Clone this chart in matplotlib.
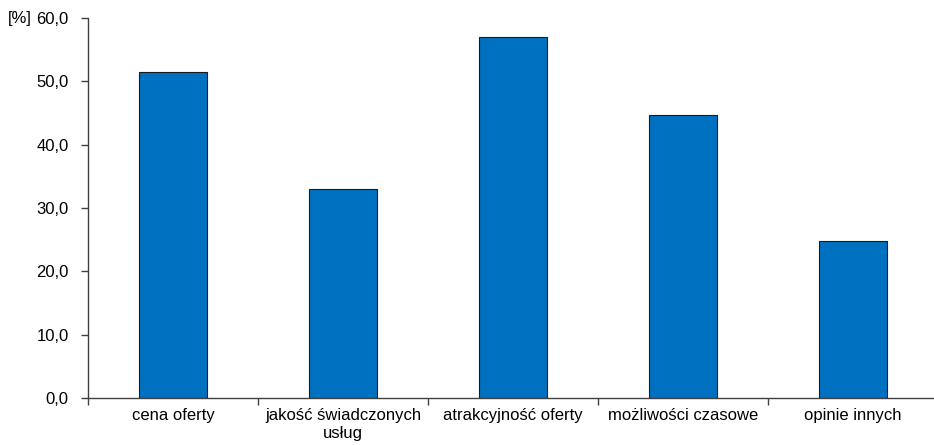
import matplotlib
matplotlib.use("Agg")
import matplotlib.pyplot as plt
from matplotlib.ticker import FuncFormatter

categories = ["cena oferty", "jakość świadczonych\nusług", "atrakcyjność oferty",
              "możliwości czasowe", "opinie innych"]
values = [51.4, 33.0, 57.0, 44.7, 24.8]
y_ticks = [0, 10, 20, 30, 40, 50, 60]

plt.rcParams["font.family"] = ["Liberation Sans", "DejaVu Sans"]
plt.rcParams["font.size"] = 12

fig = plt.figure(figsize=(9.34, 4.45), dpi=100)
ax = fig.add_axes([88 / 934, 47 / 445, 850 / 934, 380 / 445])

x = list(range(len(categories)))
ax.bar(x, values, width=0.4, color="#0070C0", edgecolor="#1a1a1a", linewidth=0.8, zorder=2)

ax.set_xlim(-0.5, len(categories) - 0.5)
ax.set_ylim(0, 60)
ax.set_yticks(y_ticks)
ax.yaxis.set_major_formatter(FuncFormatter(lambda v, p: f"{v:.1f}".replace(".", ",")))

# category boundaries as ticks, labels in the middle
ax.set_xticks([i - 0.5 for i in range(len(categories) + 1)])
ax.set_xticklabels([])
ax.set_xticks(x, minor=True)
ax.set_xticklabels(categories, minor=True, linespacing=1.3)
ax.tick_params(axis="x", which="minor", length=0, pad=7)
ax.tick_params(axis="x", which="major", length=5, width=1, color="#404040")
ax.tick_params(axis="y", length=5, width=1, color="#404040", pad=9)

for s in ["top", "right"]:
    ax.spines[s].set_visible(False)
for s in ["left", "bottom"]:
    ax.spines[s].set_color("#404040")
    ax.spines[s].set_linewidth(1)

fig.text(8 / 934, 1 - 18 / 445, "[%]", ha="left", va="center", fontsize=12)

fig.savefig("out.png", dpi=100)
